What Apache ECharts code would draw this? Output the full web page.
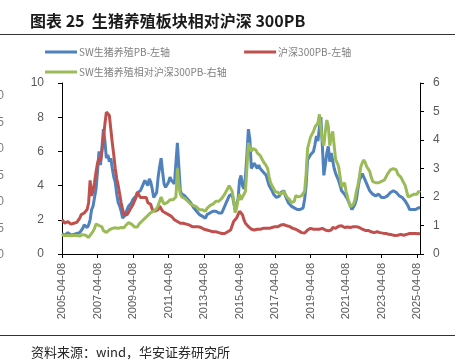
<!DOCTYPE html>
<html><head><meta charset="utf-8">
<script src="https://cdn.jsdelivr.net/npm/echarts@6/dist/echarts.min.js"></script>
<style>html,body{margin:0;padding:0;background:#fff}#c{width:467px;height:362px}</style>
</head><body><div id="c"></div>
<script>
// Monthly categories from 2005-04 to 2025-06 (day 08)
const startYear = 2005, startMonth = 4, endYear = 2025, endMonth = 6;
const categories = [];
for (let y = startYear; y <= endYear; y++) {
  for (let m = 1; m <= 12; m++) {
    if (y === startYear && m < startMonth) continue;
    if (y === endYear && m > endMonth) break;
    categories.push(y + '-' + String(m).padStart(2, '0') + '-08');
  }
}
const tickLabels = ['2005-04-08','2007-04-08','2009-04-08','2011-04-08','2013-04-08','2015-04-08','2017-04-08','2019-04-08','2021-04-08','2023-04-08','2025-04-08'];
const leftTicks = [0,2,4,6,8,10];
const rightTicks = [0,1,2,3,4,5,6];

const swPigPB = [
1.2,1.15,1.1,1.2,1.25,1.15,1.1,1.2,1.15,
1.1,1.2,1.15,1.25,1.3,1.5,1.7,1.6,1.55,1.7,2.0,2.6,
2.8,3.3,3.8,4.8,6.0,5.2,6.2,7.3,6.6,5.6,5.8,5.4,
5.6,5.0,4.5,4.2,3.5,3.0,2.8,2.5,2.1,2.0,2.3,2.6,
2.8,2.9,3.0,3.2,3.1,3.4,3.6,3.5,3.7,3.9,4.1,4.3,
4.2,4.0,4.4,4.2,3.8,3.3,3.2,3.6,4.5,5.1,5.6,4.8,
4.1,3.9,3.9,4.2,4.5,4.3,4.4,4.1,4.0,6.5,5.1,3.7,
3.5,3.5,3.4,3.3,3.2,3.1,3.0,2.9,2.7,2.6,2.5,2.4,
2.3,2.4,2.2,2.2,2.1,2.3,2.4,2.4,2.3,2.5,2.4,2.5,
2.5,2.4,2.5,2.4,2.6,2.8,3.0,3.2,3.4,3.3,3.5,3.4,
2.6,2.7,3.2,4.3,4.6,4.0,3.8,4.5,5.8,7.3,6.7,5.0,
4.9,5.3,5.2,5.0,5.2,5.0,4.9,4.8,4.9,4.6,4.3,4.0,
3.9,3.7,3.5,3.4,3.3,3.3,3.4,3.6,3.5,3.7,3.4,3.2,
3.0,2.9,2.8,2.8,2.7,2.7,2.6,2.6,2.6,2.6,2.7,3.2,
4.0,5.5,5.6,5.8,5.7,6.0,6.4,6.9,6.6,7.4,8.0,6.3,
4.6,5.2,5.9,6.3,5.4,5.9,6.0,5.0,4.7,4.5,4.3,4.0,
3.7,3.6,3.5,3.4,3.2,3.0,2.8,2.6,2.7,2.9,3.2,3.8,
4.3,4.4,4.7,4.6,4.3,4.1,3.9,3.7,3.6,3.5,3.5,3.4,
3.5,3.5,3.4,3.3,3.2,3.3,3.3,3.4,3.5,3.6,3.5,3.7,
3.7,3.6,3.5,3.4,3.5,3.3,3.2,3.1,3.0,2.8,2.6,2.5,
2.6,2.6,2.6,2.7,2.7,2.7
];
const hs300PB = [
2.0,1.9,1.8,1.85,1.9,1.8,1.75,1.8,1.8,
1.8,1.85,1.9,2.1,2.3,2.3,2.4,2.5,2.6,3.0,4.3,3.4,
3.7,4.2,4.8,5.3,5.6,5.4,6.0,6.8,7.6,8.3,8.4,8.1,
8.2,6.5,5.8,5.0,4.4,4.0,3.5,3.0,2.6,2.3,2.2,2.3,
2.4,2.6,2.7,2.9,3.1,3.3,3.6,3.5,3.3,3.4,3.3,3.4,
3.3,3.0,3.0,2.9,2.6,2.5,2.5,2.6,2.6,2.8,2.7,2.5,
2.4,2.4,2.4,2.3,2.2,2.2,2.1,2.0,1.9,1.9,1.85,1.8,
1.8,1.8,1.75,1.75,1.75,1.7,1.65,1.6,1.6,1.6,1.55,1.6,
1.6,1.55,1.5,1.45,1.45,1.4,1.4,1.35,1.35,1.3,1.3,1.3,
1.25,1.25,1.2,1.2,1.2,1.2,1.25,1.3,1.35,1.4,1.5,1.9,
1.95,2.1,2.2,2.5,2.4,2.3,2.0,1.8,1.7,1.6,1.5,1.45,
1.4,1.4,1.4,1.45,1.45,1.45,1.5,1.5,1.5,1.5,1.55,1.5,
1.5,1.55,1.55,1.6,1.6,1.6,1.65,1.7,1.7,1.72,1.7,1.65,
1.7,1.6,1.55,1.5,1.5,1.45,1.4,1.35,1.3,1.25,1.25,1.23,
1.3,1.4,1.5,1.5,1.45,1.45,1.5,1.45,1.45,1.45,1.45,1.5,
1.5,1.4,1.35,1.35,1.35,1.4,1.55,1.55,1.5,1.6,1.62,1.64,
1.65,1.6,1.55,1.55,1.58,1.6,1.55,1.55,1.6,1.6,1.6,1.6,
1.55,1.5,1.45,1.4,1.38,1.4,1.38,1.35,1.3,1.25,1.25,1.28,
1.3,1.28,1.25,1.25,1.22,1.2,1.2,1.18,1.15,1.15,1.12,1.1,
1.08,1.05,1.1,1.12,1.15,1.12,1.1,1.05,1.15,1.22,1.2,1.2,
1.2,1.18,1.2,1.15,1.18,1.2
];
const relativePB = [
0.67,0.65,0.65,0.68,0.66,0.65,0.64,0.66,0.65,
0.65,0.66,0.64,0.63,0.65,0.68,0.7,0.66,0.62,0.58,0.56,0.72,
0.8,0.9,1.05,1.08,1.0,0.95,0.95,0.82,0.8,0.76,0.8,0.85,
0.82,0.9,0.88,0.92,0.85,0.9,0.95,0.93,0.88,0.92,1.0,1.05,
1.1,1.12,1.05,1.0,0.95,0.98,0.95,1.05,1.1,1.15,1.2,1.25,
1.3,1.35,1.4,1.45,1.4,1.5,1.55,1.6,1.7,1.85,2.0,1.85,
1.75,1.8,1.8,1.85,1.9,1.87,1.9,1.95,2.0,3.0,2.4,2.1,
2.0,1.95,1.95,1.9,1.85,1.8,1.75,1.7,1.7,1.65,1.65,1.6,
1.55,1.6,1.55,1.5,1.5,1.6,1.65,1.7,1.7,1.75,1.8,1.85,
1.87,1.85,1.9,1.95,2.0,2.1,2.15,2.3,2.4,2.35,2.2,1.9,
1.45,1.6,1.9,2.1,1.9,2.0,2.0,2.2,3.0,3.9,3.7,3.6,
3.7,3.75,3.65,3.55,3.5,3.45,3.35,3.25,3.2,3.1,3.0,2.7,
2.5,2.4,2.3,2.2,2.2,2.15,2.1,2.1,2.15,2.2,2.1,2.0,
1.98,1.9,1.8,1.75,1.85,2.05,2.05,2.0,2.0,2.05,2.1,2.2,
2.8,3.7,3.9,4.1,4.2,4.3,4.45,4.5,4.6,4.9,4.4,4.0,
3.8,4.3,4.7,4.5,3.8,4.1,4.3,3.8,3.3,3.2,3.06,2.7,
2.36,2.4,2.5,2.2,2.0,1.8,1.66,1.7,1.75,1.9,2.2,2.4,
2.7,3.06,3.2,3.3,3.2,3.06,3.0,2.9,2.7,2.55,2.48,2.5,
2.5,2.5,2.45,2.55,2.6,2.6,2.7,2.8,2.85,2.95,2.9,3.0,
3.06,2.95,2.8,2.76,2.7,2.6,2.6,2.4,2.2,2.0,2.0,2.05,
2.0,2.1,2.15,2.1,2.2,2.15
];
const seriesNames = ['SW生猪养殖PB-左轴','沪深300PB-左轴','SW生猪养殖相对沪深300PB-右轴'];
const colors = ['#4F81BD','#C0504D','#9BBB59'];
const clippedLabels = ['30','25','20','15','10','5','0'];

const chart = echarts.init(document.getElementById('c'), null, {renderer:'canvas'});
const isTick = (i, v) => tickLabels.indexOf(v) >= 0;
const axisText = '#595959';
const clippedGraphics = clippedLabels.map((t, i) => ({
  type:'text', x: 4, y: 96 + i*26.5,
  style:{text:t, fill:'#7f7f7f', font:'12px "Liberation Sans"', textAlign:'right', textVerticalAlign:'middle'}
}));
chart.setOption({
  animation:false,
  color: colors,
  textStyle:{fontFamily:'"Noto Sans CJK SC", sans-serif'},
  grid:{left:62, right:47, top:83, bottom:108, containLabel:false},
  legend:[
    {data:[seriesNames[0], seriesNames[1]], left:40, top:42, itemWidth:32, itemHeight:3, itemGap:74, icon:'rect',
     textStyle:{color:'#7f7f7f', fontSize:10, fontFamily:'"Noto Sans CJK SC"', padding:[0,0,0,-3]}},
    {data:[seriesNames[2]], left:40, top:62, itemWidth:32, itemHeight:3, icon:'rect',
     textStyle:{color:'#7f7f7f', fontSize:10, fontFamily:'"Noto Sans CJK SC"', padding:[0,0,0,-3]}}
  ],
  xAxis:{
    type:'category', data:categories, boundaryGap:false,
    axisLine:{lineStyle:{color:'#000', width:1}},
    axisTick:{interval:isTick, length:4, lineStyle:{color:'#000'}},
    axisLabel:{interval:isTick, rotate:90, margin:9, color:axisText, fontSize:11, fontFamily:'"Liberation Sans"'},
    splitLine:{show:false}
  },
  yAxis:[
    {type:'value', min:leftTicks[0], max:leftTicks[leftTicks.length-1], interval:2, position:'left',
     axisLine:{show:true, lineStyle:{color:'#000'}}, axisTick:{show:true, length:4, lineStyle:{color:'#000'}},
     axisLabel:{color:axisText, fontSize:12, margin:18, fontFamily:'"Liberation Sans"'}, splitLine:{show:false}},
    {type:'value', min:rightTicks[0], max:rightTicks[rightTicks.length-1], interval:1, position:'right',
     axisLine:{show:true, lineStyle:{color:'#000'}}, axisTick:{show:true, length:4, lineStyle:{color:'#000'}},
     axisLabel:{color:axisText, fontSize:12, margin:13, fontFamily:'"Liberation Sans"'}, splitLine:{show:false}}
  ],
  series:[
    {name:seriesNames[0], type:'line', yAxisIndex:0, data:swPigPB, showSymbol:false, lineStyle:{width:3, color:colors[0]}},
    {name:seriesNames[1], type:'line', yAxisIndex:0, data:hs300PB, showSymbol:false, lineStyle:{width:3, color:colors[1]}},
    {name:seriesNames[2], type:'line', yAxisIndex:1, data:relativePB, showSymbol:false, lineStyle:{width:3, color:colors[2]}}
  ],
  graphic:[
    {type:'text', x:30, y:21, style:{text:'图表 25  生猪养殖板块相对沪深 300PB', fill:'#1a1a1a', font:'bold 16px "Noto Sans CJK SC"', textVerticalAlign:'middle'}},
    {type:'line', shape:{x1:0, y1:34.5, x2:455, y2:34.5}, style:{stroke:'#333', lineWidth:1}},
    {type:'line', shape:{x1:0, y1:335.5, x2:455, y2:335.5}, style:{stroke:'#333', lineWidth:1}},
    {type:'text', x:31, y:352, style:{text:'资料来源：wind，华安证券研究所', fill:'#262626', font:'13px "Noto Sans CJK SC"', textVerticalAlign:'middle'}}
  ].concat(clippedGraphics)
});
</script></body></html>
